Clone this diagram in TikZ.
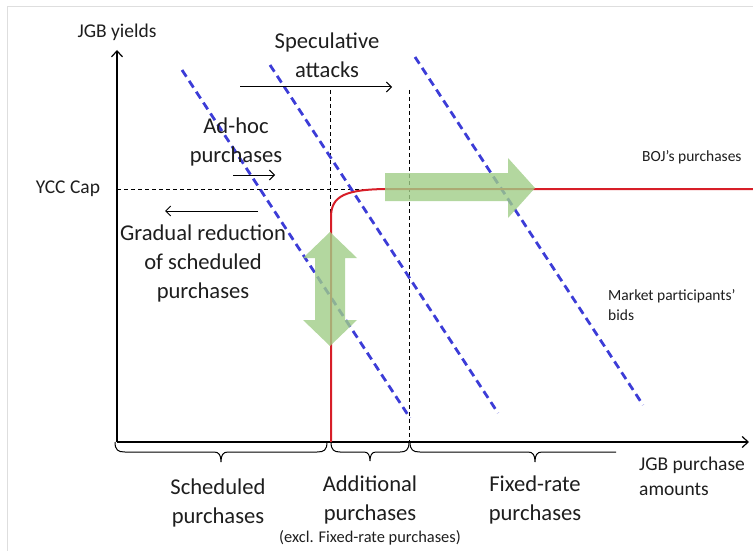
\documentclass[tikz,border=0pt]{standalone}
\usepackage{fontspec}
\setmainfont{Carlito}
\usetikzlibrary{arrows.meta}
\definecolor{bidblue}{RGB}{60,60,215}
\definecolor{bojred}{RGB}{215,30,40}
\definecolor{arrgreen}{RGB}{160,205,135}
\definecolor{framegray}{RGB}{222,222,222}
\definecolor{txt}{RGB}{30,30,30}
\begin{document}
\begin{tikzpicture}[x=1pt,y=-1pt,
  big/.style={font=\fontsize{22.6}{29}\selectfont, text=txt, align=center, inner sep=0pt},
  mid/.style={font=\fontsize{19.5}{25}\selectfont, text=txt, inner sep=0pt},
  small/.style={font=\fontsize{15.5}{20}\selectfont, text=txt, inner sep=0pt, align=left, anchor=west},
  axis/.style={line width=1.2pt, -{Straight Barb[length=6pt,width=11pt]}},
  bid/.style={draw=bidblue, line width=2.8pt, dash pattern=on 8pt off 5pt},
  guide/.style={line width=1pt, dash pattern=on 4pt off 3pt},
  boj/.style={draw=bojred, line width=2pt},
  greenarrow/.style={fill=arrgreen, fill opacity=0.8, draw=none},
  move/.style={line width=1pt, -{Straight Barb[length=5pt,width=10pt]}},
  bracestyle/.style={line width=1pt}
]
\useasboundingbox (0,0) rectangle (753,551);
% frame
\draw[framegray, line width=1pt] (7,551) -- (7,7) -- (753,7);
% axes
\coordinate (O) at (117,442);
\coordinate (ytip) at (117,50);
\coordinate (xtip) at (749,442);
\draw[axis] (O) -- (ytip);
\draw[axis] (O) -- (xtip);
% guides
\coordinate (capL) at (117,189);
\coordinate (capR) at (390,189);
\draw[guide] (capL) -- (capR);
\coordinate (v1t) at (330,90);
\coordinate (v1b) at (330,442);
\coordinate (v2t) at (409,90);
\coordinate (v2b) at (409,442);
\draw[guide] (v1t) -- (v1b);
\draw[guide] (v2t) -- (v2b);
% bids
\coordinate (b1a) at (182,70);  \coordinate (b1b) at (410,418);
\coordinate (b2a) at (270,65);  \coordinate (b2b) at (498,413);
\coordinate (b3a) at (415,57);  \coordinate (b3b) at (643,405);
\draw[bid] (b1a) -- (b1b);
\draw[bid] (b2a) -- (b2b);
\draw[bid] (b3a) -- (b3b);
% BOJ curve
\coordinate (r0) at (331,442);
\coordinate (r1) at (331,217);
\coordinate (r2) at (390,189);
\coordinate (r3) at (753,189);
\draw[boj] (r0) -- (r1) .. controls (331,196) and (345,189) .. (r2) -- (r3);
% move arrows
\coordinate (s1) at (240,87); \coordinate (s2) at (392,87);
\draw[move] (s1) -- (s2);
\coordinate (a1) at (233,175); \coordinate (a2) at (275,175);
\draw[move] (a1) -- (a2);
\coordinate (g1) at (258,211); \coordinate (g2) at (165,211);
\draw[move] (g1) -- (g2);
% green arrows
\fill[greenarrow] (385,173) -- (508,173) -- (508,158) -- (535,188) -- (508,218) -- (508,201) -- (385,201) -- cycle;
\fill[greenarrow] (330,232) -- (357,258) -- (345,258) -- (345,320) -- (357,320) -- (330,346) -- (303,320) -- (315,320) -- (315,258) -- (303,258) -- cycle;
% braces
\draw[bracestyle] (115,442) .. controls (115,450) and (118,452) .. (125,452) -- (214,452) .. controls (219,452) and (221,455) .. (221,462) .. controls (221,455) and (223,452) .. (228,452) -- (317,452) .. controls (324,452) and (327,450) .. (327,442);
\draw[bracestyle] (331,442) .. controls (331,450) and (334,452) .. (340,452) -- (364,452) .. controls (368,452) and (370,455) .. (370,461) .. controls (370,455) and (372,452) .. (376,452) -- (400,452) .. controls (406,452) and (409,450) .. (409,442);
\draw[bracestyle] (410,442) .. controls (410,450) and (413,452) .. (420,452) -- (528,452) .. controls (533,452) and (535,455) .. (535,462) .. controls (535,455) and (537,452) .. (542,452) -- (616,452);
% labels
\node[mid] (ylabel) at (117,32) {JGB yields};
\node[mid] (ycc) at (68,189) {YCC Cap};
\node[big] (spec) at (327,55) {Speculative\\attacks};
\node[big] (adhoc) at (236,142) {Ad-hoc\\purchases};
\node[big] (gradual) at (203,263) {Gradual reduction\\of scheduled\\purchases};
\node[small] (boj) at (642,157) {BOJ’s purchases};
\node[small] (bids) at (608,305) {Market participants’\\bids};
\node[big] (sched) at (218,503) {Scheduled\\purchases};
\node[big] (addl) at (370,500) {Additional\\purchases};
\node[inner sep=0pt, text=txt, font=\fontsize{16.4}{20}\selectfont] (excl) at (370,538) {(excl. Fixed-rate purchases)};
\node[big] (fixed) at (535,500) {Fixed-rate\\purchases};
\node[mid, align=left, anchor=west] (xlabel) at (639,476) {JGB purchase\\amounts};
\end{tikzpicture}
\end{document}
